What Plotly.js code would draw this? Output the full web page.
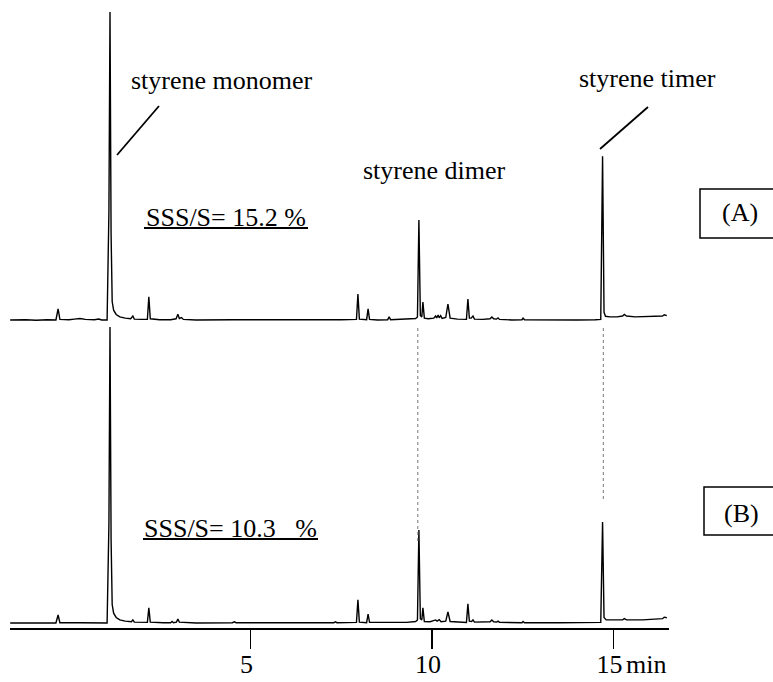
<!DOCTYPE html>
<html>
<head>
<meta charset="utf-8">
<script src="https://cdn.plot.ly/plotly-3.0.1.min.js"></script>
<style>html,body{margin:0;padding:0;background:#fff;}#chart{width:773px;height:682px;}</style>
</head>
<body>
<div id="chart"></div>
<script>
// ---- data (retention time in min, relative intensity) ----
const timeA = [-1.62,-1.2,-0.9,-0.6,-0.36,-0.30,-0.25,0.0,0.15,0.30,0.45,0.70,0.82,0.9,1.05,1.10,1.13,1.16,1.19,1.23,1.30,1.40,1.55,1.70,1.76,1.80,2.0,2.16,2.20,2.24,2.5,2.8,2.95,3.00,3.04,3.10,3.15,3.5,4.5,5.5,6.5,7.5,7.92,7.96,8.0,8.20,8.24,8.28,8.5,8.78,8.82,8.86,9.2,9.4,9.55,9.60,9.64,9.68,9.72,9.75,9.79,9.9,10.05,10.10,10.13,10.17,10.20,10.24,10.28,10.38,10.44,10.50,10.7,10.95,10.99,11.03,11.08,11.13,11.17,11.4,11.60,11.65,11.70,11.78,11.82,11.86,12.2,12.48,12.51,12.55,13.0,13.5,14.0,14.5,14.65,14.70,14.74,14.78,14.9,15.1,15.25,15.30,15.36,15.6,15.9,16.2,16.35,16.40,16.47];
const signalA = [0,0.1,-0.1,0.1,0,3.6,0.2,0.1,0.3,0.5,0.2,0.1,0.3,0,0,35,100,28,6,3.2,1.8,1.0,0.6,0.4,1.3,0.3,0.2,0.2,7.5,0.4,0.1,0.1,0.4,1.9,0.5,0.8,0.2,0,0.1,0,0.1,0.1,0.2,8.4,0.3,0.1,3.6,0.2,0,0.1,1.0,0.1,0.2,0.3,0.5,1.0,32.5,1.5,1.0,5.8,0.6,0.4,0.6,1.3,0.7,1.6,0.7,1.4,0.5,0.8,5.2,0.6,0.3,0.2,6.8,0.6,0.6,1.3,0.3,0.2,0.4,1.0,0.4,0.3,0.7,0.2,0,0.1,0.6,0.1,0,0.1,0,0.1,0.2,53.2,2.5,1.2,1.0,1.0,1.3,1.8,1.3,1.0,1.1,1.2,1.3,1.7,1.4];

const timeB = [-1.62,-1.0,-0.6,-0.36,-0.30,-0.25,0.3,0.85,0.9,1.05,1.10,1.13,1.16,1.19,1.23,1.30,1.40,1.55,1.72,1.76,1.80,2.16,2.20,2.24,2.6,2.80,2.84,2.88,2.96,3.00,3.04,3.5,4.5,4.56,4.6,5.5,6.5,7.3,7.34,7.38,7.92,7.96,8.0,8.20,8.24,8.28,8.8,9.3,9.55,9.60,9.64,9.68,9.72,9.75,9.79,9.95,10.10,10.14,10.20,10.25,10.38,10.44,10.50,10.8,10.95,10.99,11.03,11.09,11.13,11.17,11.5,11.60,11.65,11.70,11.78,11.82,11.86,12.48,12.51,12.55,13.5,14.5,14.65,14.70,14.74,14.80,15.0,15.25,15.30,15.36,15.8,16.2,16.35,16.40,16.47];
const signalB = [0,0,0.1,0,2.6,0.1,0.1,0.2,0,0,32,96.1,27,6,3.2,1.8,1.0,0.6,0.4,1.0,0.3,0.2,4.9,0.3,0.1,0.1,0.5,0.1,0.3,1.3,0.3,0,0.1,0.4,0.1,0,0.1,0.1,0.4,0.1,0.2,7.5,0.3,0.1,2.9,0.2,0.1,0.2,0.5,1.0,30.2,1.4,1.0,4.9,0.5,0.4,1.0,0.6,1.1,0.4,0.6,3.6,0.5,0.3,0.2,6.2,0.6,0.5,1.0,0.3,0.2,0.4,1.0,0.4,0.3,0.6,0.2,0.1,0.5,0.1,0.1,0.1,0.2,32.8,1.8,1.0,0.9,1.0,1.4,1.0,1.0,1.3,1.4,1.9,1.7];

const tickVals = [5, 10, 15];
const tickLabels = ["5", "10", "15"];
const axisUnit = "min";
const peakNames = ["styrene monomer", "styrene dimer", "styrene timer"];
const peakTimes = [1.13, 9.64, 14.70];
const ratioLabels = ["SSS/S= 15.2 %", "SSS/S= 10.3\u00A0\u00A0\u00A0%"];
const panelLabels = ["(A)", "(B)"];

// ---- layout helpers (pixel -> paper) ----
const W = 773, H = 682;
const px = v => v / W;
const py = v => 1 - v / H;
const FONT = "'Liberation Serif', 'Times New Roman', serif";

const traces = [
  {x: timeA, y: signalA, xaxis: "x", yaxis: "y2", mode: "lines",
   line: {color: "#000", width: 1.4}, hoverinfo: "skip"},
  {x: timeB, y: signalB, xaxis: "x", yaxis: "y", mode: "lines",
   line: {color: "#000", width: 1.4}, hoverinfo: "skip"}
];

const textAnn = (text, x, y, anchor) => ({
  text: text, xref: "paper", yref: "paper", x: px(x), y: py(y),
  xanchor: anchor || "center", yanchor: "middle", showarrow: false,
  font: {family: FONT, size: 26, color: "#000"}
});

const annotations = [
  textAnn(peakNames[0], 222, 80),
  textAnn(peakNames[1], 434, 170),
  textAnn(peakNames[2], 647, 78),
  textAnn(ratioLabels[0], 226, 218),
  textAnn(ratioLabels[1], 230, 528),
  textAnn(panelLabels[0], 740, 213),
  textAnn(panelLabels[1], 741, 513),
  textAnn(axisUnit, 624, 664, "left")
];

const lineShape = (x0, y0, x1, y1, w, extra) => Object.assign({
  type: "line", xref: "paper", yref: "paper",
  x0: px(x0), y0: py(y0), x1: px(x1), y1: py(y1),
  line: {color: "#000", width: w}
}, extra || {});

const shapes = [
  // leader lines
  lineShape(117, 155, 159, 106, 1.8),
  lineShape(600, 149, 648, 107, 1.8),
  // underlines
  lineShape(144, 228, 308, 228, 2),
  lineShape(143, 539, 318, 539, 2),
  // label boxes
  {type: "rect", xref: "paper", yref: "paper", x0: px(700), x1: px(790), y0: py(189), y1: py(238),
   line: {color: "#000", width: 1.5}, fillcolor: "rgba(0,0,0,0)"},
  {type: "rect", xref: "paper", yref: "paper", x0: px(704), x1: px(790), y0: py(487), y1: py(535),
   line: {color: "#000", width: 1.5}, fillcolor: "rgba(0,0,0,0)"},
  // dotted guide lines
  {type: "line", xref: "x", yref: "paper", x0: peakTimes[1] - 0.03, x1: peakTimes[1] - 0.03, y0: py(328), y1: py(543),
   line: {color: "#777", width: 1, dash: "dot"}},
  {type: "line", xref: "x", yref: "paper", x0: peakTimes[2] + 0.02, x1: peakTimes[2] + 0.02, y0: py(328), y1: py(500),
   line: {color: "#777", width: 1, dash: "dot"}}
];

const layout = {
  width: W, height: H,
  margin: {l: 0, r: 0, t: 0, b: 0},
  paper_bgcolor: "#fff", plot_bgcolor: "rgba(0,0,0,0)",
  showlegend: false,
  xaxis: {
    domain: [px(10), px(669)], range: [-1.625, 16.53], anchor: "y",
    showline: true, linecolor: "#000", linewidth: 2,
    ticks: "outside", ticklen: 19, tickwidth: 1.2, tickcolor: "#000",
    tickvals: tickVals, ticktext: tickLabels,
    tickfont: {family: FONT, size: 26, color: "#000"},
    ticklabelshift: -4, ticklabelstandoff: -7,
    showgrid: false, zeroline: false, fixedrange: true
  },
  yaxis: {
    domain: [py(628), py(300)], range: [-1.623, 104.87],
    visible: false, showgrid: false, zeroline: false, fixedrange: true
  },
  yaxis2: {
    domain: [py(345), 1], range: [-8.117, 103.9], anchor: "x",
    visible: false, showgrid: false, zeroline: false, fixedrange: true
  },
  annotations: annotations,
  shapes: shapes
};

Plotly.newPlot("chart", traces, layout, {displayModeBar: false, staticPlot: true});
</script>
</body>
</html>
